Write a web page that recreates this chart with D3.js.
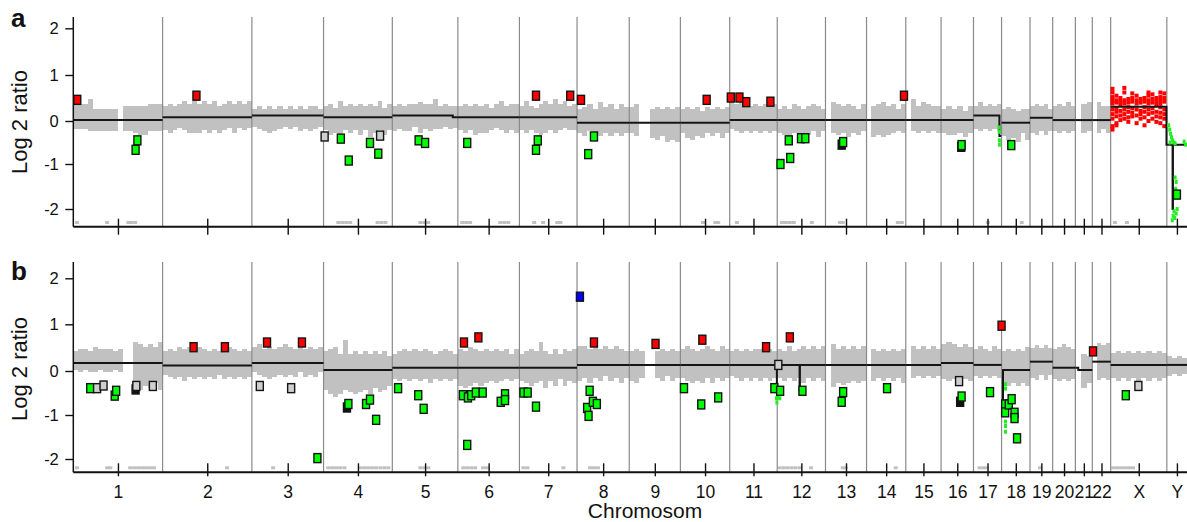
<!DOCTYPE html>
<html>
<head>
<meta charset="utf-8">
<script src="https://cdn.jsdelivr.net/npm/d3@7"></script>
<style>
  body { margin: 0; background: #fff; }
  text { font-family: 'Liberation Sans', Arial, sans-serif; }
</style>
</head>
<body>
<svg id="chart" width="1187" height="522"></svg>
<script>
// Chromosomes and their sizes (Mb)
const chromNames = ['1','2','3','4','5','6','7','8','9','10','11','12','13','14','15','16','17','18','19','20','21','22','X','Y']
const chromSizes = [248, 248, 199, 191, 182, 171, 160, 145, 142, 137, 132, 134, 114, 109, 98, 90, 78, 79, 63, 63, 47, 51, 156, 56]
const yTickValues = [-2, -1, 0, 1, 2]

// Segment lines: [chrom, startMb, endMb, log2]
const segA = [
  ['1',0,248,0.02], ['2',0,248,0.08], ['3',0,199,0.12], ['4',0,191,0.08],
  ['5',0,168,0.12], ['5',168,182,0.08], ['6',0,171,0.08], ['7',0,160,0.08],
  ['8',0,145,-0.04], ['9',0,142,-0.04], ['10',0,137,-0.04], ['11',0,132,0.02],
  ['12',0,134,0.02], ['13',0,114,0.02], ['14',0,109,0.02], ['15',0,98,0.02],
  ['16',0,90,0.02], ['17',0,72,0.12], ['17',72,77,-0.35], ['18',0,79,-0.04],
  ['19',0,63,0.07], ['20',0,63,0.02], ['21',0,47,0.02], ['22',0,51,0.02],
  ['X',0,155,0.31], ['X',155,156,-0.55],
  ['Y',0,16,-0.55], ['Y',16,17,-2.0], ['Y',17,56,-0.55]
]
const segB = [
  ['1',0,248,0.17], ['2',0,248,0.12], ['3',0,199,0.17], ['4',0,191,0.02],
  ['5',0,182,0.07], ['6',0,171,0.07], ['7',0,160,0.07], ['8',0,145,0.13],
  ['9',0,142,0.13], ['10',0,137,0.13], ['11',0,131,0.13], ['11',131,132,-0.28],
  ['12',0,62,0.13], ['12',62,63,-0.45], ['12',63,134,0.13], ['13',0,114,0.13],
  ['14',0,109,0.13], ['15',0,98,0.13], ['16',0,90,0.17], ['17',0,78,0.13],
  ['18',0,4,-0.85], ['18',4,79,0.02], ['19',0,63,0.2], ['20',0,63,0.07],
  ['21',0,8,0.07], ['21',8,47,0.02], ['22',0,51,0.2], ['X',0,156,0.13], ['Y',0,56,0.13]
]

// Gray probe cloud: spread above / below the segment, one char per bin, in 0.05 log2 steps ('-' = no probes)
const bandUpA = ['777955555-66666777','565676767675676767','34343434343443','56475656565746','4545565574545',
  '565656467566','575467686756','6786978687','78--676767','6767576767','8798676767','5657656765',
  '-8767657','-6786757','-968766','565646','464545','676566','56564','67686','-78','-866','','']
const bandDnA = ['444555555-55677555','676567776767657565','56787656576765','68786768697686','7677586766565',
  '676877656767','676787676566','5645656565','56--786989','5786756575','4565656565','6786767585',
  '-6768675','-8787656','-565656','677686','676767','687958','78686','56565','-65','-646','','']
const bandUpB = ['5665766656--987879','676878787676787676','78676787686767','89a7d787878786','6787878767876',
  '879878787868','6787b7686878','8878787876','676--67676','7876787687','6767677676','7686787878',
  '-9787878','-7676767','-878787','898787','787687','89898a','67676','89a98','-76','-878','56565656565','4343']
const bandDnB = ['3434434434--bcab9c','456575656564656565','45676565646564','9bcb9aba9b8a97','5656565756565',
  '898787676565','678769685867','7686757686','786--67576','6787868676','5676767676','6767686767',
  '-a898787','-7676768','-656565','787878','565656','676767','78686','56565','-86','-878','67676767676','5454']

// Probes below the plotted range, shown on the floor: [chrom, Mb]
const floorA = -2.3
const floorB = -2.2
const lowA = [['1',10],['1',94],['1',153],['1',161],['1',172],['4',41],['4',52],['4',63],['4',74],['4',150],['4',161],['4',172],
  ['5',78],['5',89],['5',100],['6',12],['6',23],['6',34],['6',118],['6',129],['6',140],['7',41],['7',66],['7',105],['7',114],
  ['10',63],['10',97],['10',105],['11',20],['12',13],['12',24],['12',35],['12',46],['12',96],['13',40],['13',48],
  ['14',87],['14',98],['17',40],['18',56],['X',12],['X',45]]
const lowB = [['1',10],['1',94],['1',103],['1',158],['1',169],['1',180],['1',191],['1',202],['1',213],['1',224],['2',179],['3',59],
  ['4',13],['4',24],['4',35],['4',46],['4',58],['4',102],['4',113],['4',124],['4',135],['4',146],['4',158],['4',169],['4',180],
  ['5',78],['5',89],['5',100],['6',15],['6',26],['6',37],['6',48],['6',70],['6',81],['7',11],['7',22],['7',122],
  ['8',36],['8',47],['8',58],['12',7],['12',18],['12',29],['12',40],['12',51],['12',63],['12',94],['13',48],['13',56],
  ['14',81],['17',17],['17',28],['17',37],['19',28],['X',7],['X',18],['X',29],['X',40],['X',51],['X',62]]

// Gained X probes in panel a: column positions (Mb on X) and the log2 values in each column
const redXPos = [5, 16, 27, 38, 49, 60, 72, 83, 94, 105, 116, 127, 138, 149]
const redXVals = [
  [0.7,0.62,0.52,0.45,0.38,0.25,0.15,0.05,-0.12,-0.2], [0.55,0.45,0.4,0.28,0.2,0.1,-0.05,-0.1],
  [0.5,0.42,0.36,0.22,0.12,0.02], [0.72,0.62,0.45,0.38,0.25,0.15,0.05], [0.48,0.4,0.3,0.2,0.08,-0.02],
  [0.6,0.5,0.42,0.28,0.18,0.1], [0.55,0.45,0.38,0.25,0.12,-0.05], [0.48,0.4,0.22,0.15,0.05],
  [0.5,0.42,0.3,0.2,0.08,-0.1], [0.62,0.55,0.45,0.38,0.25,0.15,0.0], [0.58,0.48,0.4,0.28,0.18,0.05],
  [0.5,0.42,0.35,0.2,0.1,-0.02], [0.62,0.52,0.45,0.38,0.3,0.18,0.08,-0.05], [0.6,0.5,0.42,0.25,0.15,0.05,-0.12]
]

// Lost single probes: [chrom, Mb, log2]
const greenDotsA = [['17',71,-0.15],['17',71.5,-0.25],['17',72,-0.45],['17',72,-0.55],
  ['Y',5,-0.1],['Y',8,-0.2],['Y',10.5,-0.3],['Y',13,-0.38],['Y',16,-0.45],['Y',19,-0.5],['Y',9,-0.5],['Y',23,-0.52],
  ['Y',48,-0.48],['Y',52,-0.55],['Y',23,-1.3],['Y',26,-1.4],['Y',24.5,-1.55],['Y',20,-2.05],['Y',17.5,-2.15],
  ['Y',15,-2.25],['Y',26,-2.1],['Y',28.6,-2.0],['Y',22,-2.2]]
const greenDotsB = [['11',130,-0.62],['11',131,-0.72],['12',1,-0.6],['12',7,-0.62],
  ['18',11,-0.3],['18',11,-0.4],['18',11,-1.15],['18',11,-1.25],['18',11,-1.38]]

// Flagged clones: [chrom, Mb, log2, kind] r=gain g=loss w=unclear k=overlapping b=amplified
const sqA = [['1',11,0.46,'r'],['1',178,-0.45,'g'],['1',173,-0.67,'g'],['2',94,0.55,'r'],['4',3,-0.36,'w'],['4',48,-0.41,'g'],
  ['4',70,-0.92,'g'],['4',129,-0.51,'g'],['4',157,-0.34,'w'],['4',152,-0.76,'g'],['5',73,-0.45,'g'],['5',91,-0.51,'g'],
  ['6',26,-0.51,'g'],['7',46,0.55,'r'],['7',51,-0.45,'g'],['7',46,-0.67,'g'],['7',141,0.55,'r'],['8',11,0.46,'r'],
  ['8',47,-0.36,'g'],['8',31,-0.77,'g'],['10',73,0.46,'r'],['11',3,0.51,'r'],['11',27,0.51,'r'],['11',46,0.41,'r'],
  ['11',113,0.42,'r'],['12',9,-1.0,'g'],['12',32,-0.45,'g'],['12',36,-0.86,'g'],['12',66,-0.4,'g'],['12',78,-0.4,'g'],
  ['13',45,-0.55,'k'],['13',49,-0.49,'g'],['14',104,0.55,'r'],['16',56,-0.6,'k'],['16',57,-0.56,'g'],['18',27,-0.56,'g'],
  ['Y',28,-1.68,'g']]
const sqB = [['1',47,-0.39,'g'],['1',66,-0.39,'w'],['1',84,-0.33,'w'],['1',115,-0.56,'g'],['1',119,-0.45,'g'],['1',173,-0.42,'k'],
  ['1',175,-0.34,'w'],['1',221,-0.34,'w'],['2',86,0.51,'r'],['2',173,0.51,'r'],['3',22,-0.34,'w'],['3',42,0.61,'r'],
  ['3',109,-0.39,'w'],['3',139,0.61,'r'],['3',182,-1.98,'g'],['4',65,-0.83,'k'],['4',69,-0.75,'g'],['4',118,-0.75,'g'],
  ['4',129,-0.65,'g'],['4',146,-1.11,'g'],['5',16,-0.39,'g'],['5',72,-0.55,'g'],['5',87,-0.86,'g'],['6',17,0.61,'r'],
  ['6',57,0.72,'r'],['6',14,-0.55,'g'],['6',28,-0.6,'g'],['6',37,-0.55,'g'],['6',50,-0.49,'g'],['6',69,-0.49,'g'],
  ['6',26,-1.68,'g'],['6',119,-0.7,'g'],['6',131,-0.53,'g'],['6',131,-0.66,'g'],['7',11,-0.49,'g'],['7',23,-0.49,'g'],
  ['7',46,-0.81,'g'],['8',8,1.6,'b'],['8',47,0.61,'r'],['8',35,-0.45,'g'],['8',28,-0.84,'g'],['8',32,-1.02,'g'],
  ['8',44,-0.7,'g'],['8',55,-0.75,'g'],['9',73,0.58,'r'],['10',10,-0.39,'g'],['10',61,0.67,'r'],['10',58,-0.76,'g'],
  ['10',105,-0.6,'g'],['11',101,0.51,'r'],['11',124,-0.39,'g'],['12',3,0.13,'w'],['12',8,-0.45,'g'],['12',35,0.72,'r'],
  ['12',70,-0.45,'g'],['13',49,-0.48,'g'],['13',45,-0.7,'g'],['14',57,-0.39,'g'],['16',50,-0.23,'w'],['16',53,-0.7,'k'],
  ['16',57,-0.58,'g'],['17',46,-0.48,'g'],['17',78,0.97,'r'],['18',10,-0.76,'g'],['18',10,-0.94,'g'],['18',20,-0.76,'g'],
  ['18',28,-0.64,'g'],['18',36,-0.95,'g'],['18',36,-1.07,'g'],['18',43,-1.53,'g'],['22',2,0.42,'r'],['X',42,-0.55,'g'],
  ['X',77,-0.34,'w']]

const sqFill = { r: '#ff0000', g: '#00ff00', w: '#cfcfcf', k: '#111111', b: '#0000ff' }

// Layout
const width = 1187
const left = 73.3
const panels = [
  { label: 'a', top: 17, axisY: 226.7, tickPx: [209, 164, 121, 75, 28.3], seg: segA, up: bandUpA, dn: bandDnA,
    low: lowA, floor: floorA, dots: greenDotsA, sq: sqA, red: true, names: false, tickUp: 8, tickDn: 8, titleY: 122 },
  { label: 'b', top: 262, axisY: 472.3, tickPx: [459, 415, 371, 324.3, 278.3], seg: segB, up: bandUpB, dn: bandDnB,
    low: lowB, floor: floorB, dots: greenDotsB, sq: sqB, red: false, names: true, tickUp: 9, tickDn: 4, titleY: 369 }
]

const starts = d3.cumsum([0, ...chromSizes])
const total = starts[chromSizes.length]
const idx = (c) => chromNames.indexOf(c)
const gpos = (c, p) => starts[idx(c)] + p

const svg = d3.select('#chart')
const xScale = d3.scaleLinear().domain([0, total]).range([left, width])
const centers = chromNames.map((c, i) => starts[i] + chromSizes[i] / 2)

panels.forEach(p => {
  const yScale = d3.scaleLinear().domain(yTickValues).range(p.tickPx)
  const g = svg.append('g')

  const segAt = (c, pos) => {
    const list = p.seg.filter(s => s[0] === c)
    const hit = list.find(s => pos >= s[1] && pos <= s[2])
    return hit ? hit[3] : list[0][3]
  }

  // Gray probe cloud
  const band = g.append('g').attr('shape-rendering', 'crispEdges')
  chromNames.forEach((c, i) => {
    const up = p.up[i]
    const dn = p.dn[i]
    const n = up.length
    for (let k = 0; k < n; k++) {
      if (up[k] === '-') continue
      const a = chromSizes[i] * k / n
      const b = chromSizes[i] * (k + 1) / n
      const base = segAt(c, (a + b) / 2)
      const hi = base + parseInt(up[k], 36) * 0.05
      const lo = base - parseInt(dn[k], 36) * 0.05
      const x0 = Math.round(xScale(starts[i] + a))
      const x1 = Math.round(xScale(starts[i] + b))
      band.append('rect')
        .attr('x', x0)
        .attr('width', x1 - x0)
        .attr('y', Math.round(yScale(hi)))
        .attr('height', Math.round(yScale(lo)) - Math.round(yScale(hi)))
        .attr('fill', '#c1c1c1')
    }
  })

  // Floor probes
  g.selectAll('.low')
    .data(p.low)
    .enter().append('rect')
    .attr('x', d => xScale(gpos(d[0], d[1])) - 2)
    .attr('y', yScale(p.floor) - 1.5)
    .attr('width', 4)
    .attr('height', 3)
    .attr('fill', '#c1c1c1')

  // Chromosome boundaries
  g.selectAll('.bound')
    .data(starts.slice(1, chromSizes.length))
    .enter().append('line')
    .attr('x1', d => xScale(d)).attr('x2', d => xScale(d))
    .attr('y1', p.top).attr('y2', p.axisY)
    .attr('stroke', '#8a8a8a')
    .attr('stroke-width', 1.2)

  // Gained X probes
  if (p.red) {
    redXPos.forEach((pos, k) => {
      redXVals[k].forEach(v => {
        g.append('rect')
          .attr('x', xScale(gpos('X', pos)) - 2)
          .attr('y', yScale(v) - 2)
          .attr('width', 4).attr('height', 4)
          .attr('fill', '#ff0000')
      })
    })
  }

  // Segment step lines, one path per chromosome
  const line = d3.line().x(d => d[0]).y(d => d[1])
  chromNames.forEach(c => {
    const list = p.seg.filter(s => s[0] === c)
    const pts = []
    list.forEach(s => {
      pts.push([xScale(gpos(c, s[1])), yScale(s[3])])
      pts.push([xScale(gpos(c, s[2])), yScale(s[3])])
    })
    g.append('path')
      .attr('d', line(pts))
      .attr('fill', 'none')
      .attr('stroke', '#151515')
      .attr('stroke-width', 2)
  })

  // Single lost probes
  g.selectAll('.dot')
    .data(p.dots)
    .enter().append('rect')
    .attr('x', d => xScale(gpos(d[0], d[1])) - 1.5)
    .attr('y', d => yScale(d[2]) - 2)
    .attr('width', 3).attr('height', 4)
    .attr('fill', '#22ee22')

  // Flagged clones
  g.selectAll('.sq')
    .data(p.sq)
    .enter().append('rect')
    .attr('x', d => xScale(gpos(d[0], d[1])) - 3.5)
    .attr('y', d => yScale(d[2]) - 4.5)
    .attr('width', 7).attr('height', 9)
    .attr('fill', d => sqFill[d[3]])
    .attr('stroke', '#141414')
    .attr('stroke-width', 1.4)

  // Left axis
  const yAxis = g.append('g')
    .attr('transform', `translate(${left},0)`)
    .call(d3.axisLeft(yScale).tickValues(yTickValues).tickSize(8).tickFormat(d => String(d)))
  yAxis.select('.domain').remove()
  yAxis.selectAll('line').attr('stroke', '#111').attr('stroke-width', 1.4)
  yAxis.selectAll('text').attr('font-size', 16.5).attr('fill', '#111').attr('x', -14.5)
  g.append('line')
    .attr('x1', left).attr('x2', left)
    .attr('y1', p.top).attr('y2', p.axisY)
    .attr('stroke', '#111').attr('stroke-width', 1.5)

  // Bottom axis with chromosome ticks
  const xAxis = g.append('g')
    .attr('transform', `translate(0,${p.axisY - p.tickUp})`)
    .call(d3.axisBottom(xScale).tickValues(centers).tickSize(p.tickUp + p.tickDn)
      .tickFormat((d, i) => p.names ? chromNames[i] : ''))
  xAxis.select('.domain').remove()
  xAxis.selectAll('line').attr('stroke', '#111').attr('stroke-width', 1.4)
  xAxis.selectAll('text').attr('font-size', 17.5).attr('fill', '#111').attr('y', p.tickUp + 13.5)
  g.append('line')
    .attr('x1', left).attr('x2', width)
    .attr('y1', p.axisY).attr('y2', p.axisY)
    .attr('stroke', '#111').attr('stroke-width', 2)

  // Axis title and panel letter
  g.append('text')
    .attr('transform', `translate(27,${p.titleY}) rotate(-90)`)
    .attr('text-anchor', 'middle')
    .attr('font-size', 22)
    .attr('fill', '#111')
    .text('Log 2 ratio')
  g.append('text')
    .attr('x', 11).attr('y', p.top + (p.label === 'a' ? 10 : 18))
    .attr('font-size', 26)
    .attr('font-weight', 'bold')
    .attr('fill', '#111')
    .text(p.label)
})

svg.append('text')
  .attr('x', 645).attr('y', 517.5)
  .attr('text-anchor', 'middle')
  .attr('font-size', 21)
  .attr('fill', '#111')
  .text('Chromosom')
</script>
</body>
</html>
